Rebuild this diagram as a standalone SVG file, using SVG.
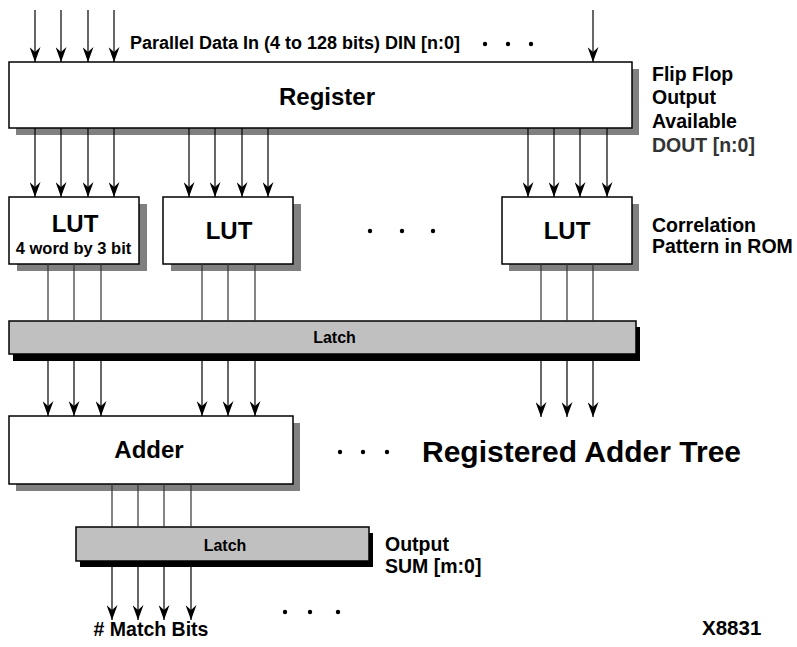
<svg xmlns="http://www.w3.org/2000/svg" width="797" height="647" viewBox="0 0 797 647">
<style>
text{font-family:"Liberation Sans",Arial,sans-serif;font-weight:bold;fill:#000}
.box{fill:#fff;stroke:#000;stroke-width:1.5}
.sh{fill:#808080}
.lat{fill:#c0c0c0;stroke:#000;stroke-width:1.5}
.lsh{fill:#000}
.ar{stroke:#000;stroke-width:1.2;fill:none;marker-end:url(#ah)}
.ln{stroke:#333;stroke-width:1.2;fill:none}
.lbl{font-size:19.5px}
.dot{fill:#000}
</style>
<defs>
<marker id="ah" viewBox="0 0 15 11" refX="15" refY="5.5" markerWidth="15" markerHeight="11" markerUnits="userSpaceOnUse" orient="auto">
<path d="M0,0 L15,5.5 L0,11 L5,5.5 Z" fill="#000"/>
</marker>
</defs>

<g id="register">
<rect class="sh" x="16" y="69" width="623" height="66"/>
<rect class="box" x="9" y="62" width="623" height="66"/>
<text x="327" y="105" font-size="24" text-anchor="middle">Register</text>
</g>

<g id="lut1">
<rect class="sh" x="17" y="204" width="130" height="67"/>
<rect class="box" x="9" y="197" width="130" height="67"/>
<text x="75" y="232" font-size="24" text-anchor="middle">LUT</text>
<text x="73.5" y="254" font-size="16.5" text-anchor="middle">4 word by 3 bit</text>
</g>

<g id="lut2">
<rect class="sh" x="171" y="204" width="130" height="67"/>
<rect class="box" x="163" y="197" width="130" height="67"/>
<text x="229" y="239" font-size="24" text-anchor="middle">LUT</text>
</g>

<g id="lut3">
<rect class="sh" x="509" y="204" width="130" height="67"/>
<rect class="box" x="502" y="197" width="130" height="67"/>
<text x="567" y="239" font-size="24" text-anchor="middle">LUT</text>
</g>

<g id="latch1">
<rect class="lsh" x="13" y="327" width="627" height="34"/>
<rect class="lat" x="9" y="321" width="627" height="33"/>
<text x="334.5" y="343" font-size="16" text-anchor="middle">Latch</text>
</g>

<g id="adder">
<rect class="sh" x="16" y="423" width="284" height="68"/>
<rect class="box" x="9" y="416" width="284" height="68"/>
<text x="149" y="458" font-size="24" text-anchor="middle">Adder</text>
</g>

<g id="latch2">
<rect class="lsh" x="80" y="533" width="293" height="34"/>
<rect class="lat" x="76" y="527" width="293" height="34"/>
<text x="225" y="551" font-size="16" text-anchor="middle">Latch</text>
</g>

<g id="connectors">
<line class="ar" x1="35" y1="10" x2="35" y2="62"/>
<line class="ar" x1="61" y1="10" x2="61" y2="62"/>
<line class="ar" x1="88" y1="10" x2="88" y2="62"/>
<line class="ar" x1="114" y1="10" x2="114" y2="62"/>
<line class="ar" x1="593" y1="10" x2="593" y2="62"/>

<line class="ar" x1="35" y1="128" x2="35" y2="197"/>
<line class="ar" x1="61" y1="128" x2="61" y2="197"/>
<line class="ar" x1="88" y1="128" x2="88" y2="197"/>
<line class="ar" x1="114" y1="128" x2="114" y2="197"/>
<line class="ar" x1="189" y1="128" x2="189" y2="197"/>
<line class="ar" x1="215" y1="128" x2="215" y2="197"/>
<line class="ar" x1="242" y1="128" x2="242" y2="197"/>
<line class="ar" x1="268" y1="128" x2="268" y2="197"/>
<line class="ar" x1="528" y1="128" x2="528" y2="197"/>
<line class="ar" x1="554" y1="128" x2="554" y2="197"/>
<line class="ar" x1="580" y1="128" x2="580" y2="197"/>
<line class="ar" x1="607" y1="128" x2="607" y2="197"/>

<line class="ln" x1="48" y1="264" x2="48" y2="321"/>
<line class="ln" x1="74" y1="264" x2="74" y2="321"/>
<line class="ln" x1="101" y1="264" x2="101" y2="321"/>
<line class="ln" x1="202" y1="264" x2="202" y2="321"/>
<line class="ln" x1="228" y1="264" x2="228" y2="321"/>
<line class="ln" x1="255" y1="264" x2="255" y2="321"/>
<line class="ln" x1="541" y1="264" x2="541" y2="321"/>
<line class="ln" x1="567" y1="264" x2="567" y2="321"/>
<line class="ln" x1="593" y1="264" x2="593" y2="321"/>

<line class="ar" x1="48" y1="354" x2="48" y2="416"/>
<line class="ar" x1="74" y1="354" x2="74" y2="416"/>
<line class="ar" x1="101" y1="354" x2="101" y2="416"/>
<line class="ar" x1="202" y1="354" x2="202" y2="416"/>
<line class="ar" x1="228" y1="354" x2="228" y2="416"/>
<line class="ar" x1="255" y1="354" x2="255" y2="416"/>
<line class="ar" x1="541" y1="354" x2="541" y2="417"/>
<line class="ar" x1="567" y1="354" x2="567" y2="417"/>
<line class="ar" x1="593" y1="354" x2="593" y2="417"/>

<line class="ln" x1="112" y1="484" x2="112" y2="527"/>
<line class="ln" x1="138" y1="484" x2="138" y2="527"/>
<line class="ln" x1="164" y1="484" x2="164" y2="527"/>
<line class="ln" x1="191" y1="484" x2="191" y2="527"/>

<line class="ar" x1="112" y1="561" x2="112" y2="620"/>
<line class="ar" x1="138" y1="561" x2="138" y2="620"/>
<line class="ar" x1="164" y1="561" x2="164" y2="620"/>
<line class="ar" x1="191" y1="561" x2="191" y2="620"/>
</g>

<g id="dots">
<circle class="dot" cx="485" cy="44" r="2.2"/>
<circle class="dot" cx="508" cy="44" r="2.2"/>
<circle class="dot" cx="531" cy="44" r="2.2"/>
<circle class="dot" cx="370" cy="231" r="2.2"/>
<circle class="dot" cx="402" cy="231" r="2.2"/>
<circle class="dot" cx="433" cy="231" r="2.2"/>
<circle class="dot" cx="340" cy="452" r="2.2"/>
<circle class="dot" cx="363" cy="452" r="2.2"/>
<circle class="dot" cx="387" cy="452" r="2.2"/>
<circle class="dot" cx="285" cy="612" r="2.2"/>
<circle class="dot" cx="310" cy="612" r="2.2"/>
<circle class="dot" cx="338" cy="612" r="2.2"/>
</g>

<g id="labels">
<text x="130" y="49" font-size="18">Parallel Data In (4 to 128 bits) DIN [n:0]</text>
<text class="lbl" x="652" y="81">Flip Flop</text>
<text class="lbl" x="652" y="104">Output</text>
<text class="lbl" x="652" y="128">Available</text>
<text class="lbl" x="652" y="152" style="fill:#333">DOUT [n:0]</text>
<text class="lbl" x="652" y="232">Correlation</text>
<text class="lbl" x="652" y="253">Pattern in ROM</text>
<text x="422" y="462" font-size="30">Registered Adder Tree</text>
<text class="lbl" x="385" y="551">Output</text>
<text class="lbl" x="385" y="573">SUM [m:0]</text>
<text class="lbl" x="151" y="636" text-anchor="middle"># Match Bits</text>
<text x="702" y="635" font-size="20.5">X8831</text>
</g>
</svg>
